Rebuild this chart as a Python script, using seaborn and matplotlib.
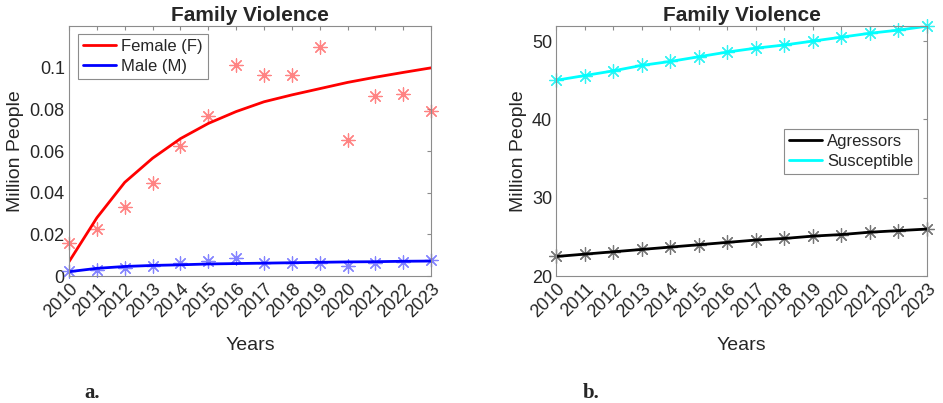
import matplotlib
matplotlib.use("Agg")
import matplotlib.pyplot as plt
import pandas as pd
import seaborn as sns

# -----------------------------
# Data
# -----------------------------
YEARS = list(range(2010, 2024))

FEMALE_DATA = [0.0161, 0.0227, 0.0331, 0.0447, 0.0626, 0.0770, 0.1013,
               0.0966, 0.0966, 0.1100, 0.0653, 0.0863, 0.0875, 0.0794]
FEMALE_FIT = [0.0069, 0.0280, 0.0450, 0.0566, 0.0660, 0.0733, 0.0790,
              0.0837, 0.0870, 0.0900, 0.0930, 0.0955, 0.0978, 0.1000]
MALE_DATA = [0.0022, 0.0030, 0.0038, 0.0046, 0.0062, 0.0073, 0.0089,
             0.0065, 0.0062, 0.0065, 0.0046, 0.0062, 0.0067, 0.0075]
MALE_FIT = [0.0021, 0.0037, 0.0046, 0.0051, 0.0054, 0.0058, 0.0060,
            0.0062, 0.0064, 0.0066, 0.0068, 0.0069, 0.0071, 0.0072]

AGRESSORS = [22.5, 22.8, 23.1, 23.4, 23.7, 24.0, 24.3,
             24.6, 24.8, 25.1, 25.3, 25.6, 25.8, 26.0]
SUSCEPTIBLE = [45.0, 45.6, 46.2, 46.9, 47.4, 48.0, 48.6,
               49.1, 49.5, 50.0, 50.5, 51.0, 51.4, 51.9]

LEFT_YTICKS = [0, 0.02, 0.04, 0.06, 0.08, 0.1]
LEFT_YTICK_LABELS = ["0", "0.02", "0.04", "0.06", "0.08", "0.1"]
RIGHT_YTICKS = [20, 30, 40, 50]

TITLE = "Family Violence"
ASTERISK = (8, 2, 0)
BOX_GRAY = "#8c8c8c"

sns.set_style("white")
plt.rcParams["font.family"] = ["Liberation Sans", "DejaVu Sans"]


def style_axes(ax, ylabel):
    """MATLAB-like box with inward ticks on every side."""
    ax.set_xlim(YEARS[0], YEARS[-1])
    ax.set_xticks(YEARS)
    ax.set_xticklabels([str(y) for y in YEARS], rotation=45, ha="right",
                       rotation_mode="anchor", fontsize=13)
    ax.tick_params(axis="both", direction="in", length=3, width=0.8,
                   color=BOX_GRAY, top=True, right=True, labelsize=13, pad=3)
    for spine in ax.spines.values():
        spine.set_visible(True)
        spine.set_color(BOX_GRAY)
        spine.set_linewidth(0.8)
    ax.set_title(TITLE, fontsize=15, fontweight="bold", pad=4)
    ax.set_xlabel("Years", fontsize=14, labelpad=12)
    ax.set_ylabel(ylabel, fontsize=14, labelpad=4)


def add_legend(ax, loc, anchor):
    leg = ax.legend(loc=loc, bbox_to_anchor=anchor, borderaxespad=0,
                    fontsize=12, handlelength=2.0, handletextpad=0.3,
                    borderpad=0.3, labelspacing=0.3, fancybox=False,
                    framealpha=1)
    leg.get_frame().set_edgecolor(BOX_GRAY)
    leg.get_frame().set_linewidth(0.8)
    return leg


fig = plt.figure(figsize=(9.43, 4.03), dpi=100)
ax_left = fig.add_axes([0.0732, 0.315, 0.384, 0.620])
ax_right = fig.add_axes([0.590, 0.315, 0.393, 0.620])

left_df = pd.DataFrame({"year": YEARS, "female_data": FEMALE_DATA,
                        "female_fit": FEMALE_FIT, "male_data": MALE_DATA,
                        "male_fit": MALE_FIT})
right_df = pd.DataFrame({"year": YEARS, "agressors": AGRESSORS,
                         "susceptible": SUSCEPTIBLE})

# Left panel: observed points plus fitted curves
sns.scatterplot(data=left_df, x="year", y="female_data", ax=ax_left,
                marker=ASTERISK, s=90, color="#ff5a5a", linewidth=0.9,
                alpha=0.75, clip_on=False, legend=False)
sns.scatterplot(data=left_df, x="year", y="male_data", ax=ax_left,
                marker=ASTERISK, s=90, color="#5a5aff", linewidth=0.9,
                alpha=0.75, clip_on=False, legend=False)
sns.lineplot(data=left_df, x="year", y="female_fit", ax=ax_left,
             color="#ff0000", linewidth=2.0, label="Female (F)")
sns.lineplot(data=left_df, x="year", y="male_fit", ax=ax_left,
             color="#0000ff", linewidth=2.0, label="Male (M)")
ax_left.set_ylim(0, 0.12)
ax_left.set_yticks(LEFT_YTICKS)
ax_left.set_yticklabels(LEFT_YTICK_LABELS)
style_axes(ax_left, "Million People")
add_legend(ax_left, "upper left", (0.025, 0.968))

# Right panel: model curves with markers at each year
sns.lineplot(data=right_df, x="year", y="agressors", ax=ax_right,
             color="#000000", linewidth=2.0, label="Agressors")
sns.lineplot(data=right_df, x="year", y="susceptible", ax=ax_right,
             color="#00ffff", linewidth=2.0, label="Susceptible")
sns.scatterplot(data=right_df, x="year", y="agressors", ax=ax_right,
                marker=ASTERISK, s=100, color="#555555", linewidth=0.9,
                alpha=0.8, clip_on=False, legend=False)
sns.scatterplot(data=right_df, x="year", y="susceptible", ax=ax_right,
                marker=ASTERISK, s=100, color="#00f0f0", linewidth=0.9,
                alpha=0.8, clip_on=False, legend=False)
ax_right.set_ylim(20, 51.9)
ax_right.set_yticks(RIGHT_YTICKS)
style_axes(ax_right, "Million People")
add_legend(ax_right, "upper right", (0.977, 0.588))

# Panel letters under each chart
fig.text(0.090, 0.012, "a.", family=["Liberation Serif", "DejaVu Serif"],
         fontsize=15, fontweight="bold")
fig.text(0.618, 0.012, "b.", family=["Liberation Serif", "DejaVu Serif"],
         fontsize=15, fontweight="bold")

fig.savefig("out.png", dpi=100)
